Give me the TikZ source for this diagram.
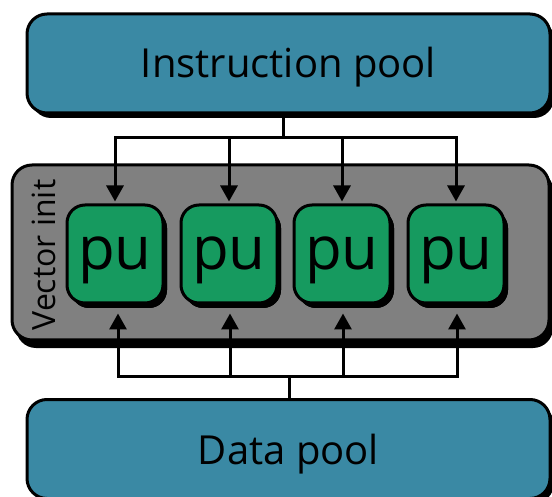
\documentclass[tikz,border=0pt]{standalone}
\usepackage{fontspec}
\setmainfont{Open Sans}
\usetikzlibrary{arrows.meta,shadows}
\definecolor{poolblue}{HTML}{3A89A4}
\definecolor{pugreen}{HTML}{169A5F}
\definecolor{vecgray}{HTML}{808080}
\tikzset{
  box/.style={draw=black, line width=3pt, rounded corners=20pt, inner sep=0pt,
    general shadow={fill=black, shadow xshift=4pt, shadow yshift=-5pt}},
  pool/.style={box, fill=poolblue, minimum width=523pt, minimum height=99pt},
  pooltext/.style={font=\fontsize{40}{44}\selectfont},
  pubox/.style={box, fill=pugreen, rounded corners=18pt, minimum width=96pt,
    minimum height=98pt,
    general shadow={fill=black, shadow xshift=4pt, shadow yshift=-5pt},
    label={[font=\fontsize{60}{64}\selectfont, yshift=-6pt]center:pu}},
  wire/.style={line width=3pt},
  feed/.style={wire, -{Triangle[width=17pt,length=16pt]}},
}
\begin{document}
\begin{tikzpicture}[x=1pt,y=-1pt]
\clip (0,0) rectangle (552,497);
\useasboundingbox (0,0) rectangle (552,497);

% pools and the vector unit frame
\node[pool, label={[pooltext, yshift=-4pt]center:Instruction pool}] (ipool) at (288.5,63.5) {};
\node[box, fill=vecgray, minimum width=537pt, minimum height=175pt,
  general shadow={fill=black, shadow xshift=4pt, shadow yshift=-8pt}] (vbox) at (280.5,252.5) {};
\node[rotate=90, font=\fontsize{32}{35}\selectfont] (vlabel) at (44,255) {Vector init};
\node[pool, label={[pooltext, yshift=-5pt]center:Data pool}] (dpool) at (288.5,449) {};

% processing units
\node[pubox] (p1) at (115,254) {};
\node[pubox] (p2) at (229,254) {};
\node[pubox] (p3) at (342,254) {};
\node[pubox] (p4) at (456,254) {};

% instruction bus
\coordinate (tb) at (283,138);
\draw[wire] (ipool.south -| tb) -- (tb);
\draw[wire, line cap=rect] (p1.north |- tb) -- (p4.north |- tb);
\foreach \p in {p1,p2,p3,p4}
  \draw[feed] (\p.north |- tb) -- ([yshift=2pt]\p.north);

% data bus
\coordinate (bb) at (289,376);
\draw[wire] (dpool.north -| bb) -- (bb);
\draw[wire, line cap=rect] ([xshift=3pt]p1.south |- bb) -- ([xshift=1pt]p4.south |- bb);
\foreach \p/\dx in {p1/3,p2/1,p3/1,p4/1}
  \draw[feed] ([xshift=\dx pt]\p.south |- bb) -- ([xshift=\dx pt, yshift=-9pt]\p.south);
\end{tikzpicture}
\end{document}
